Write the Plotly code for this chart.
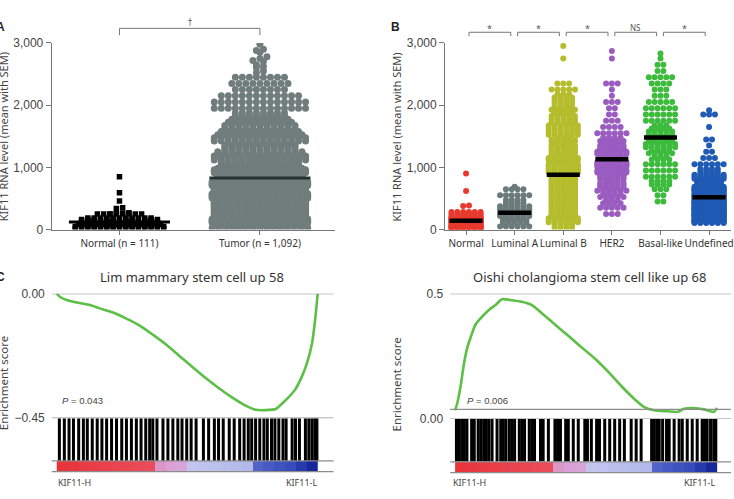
import plotly.graph_objects as go

W, H = 734, 499
def px(x): return x / W
def py(y): return 1 - y / H

# ---------------- DATA ----------------
# Panel A: counts per 100-unit bin starting at 0, plus individual outliers
a_categories = ["Normal (n = 111)", "Tumor (n = 1,092)"]
a_normal_counts = [44, 50, 8]
a_normal_outliers = [250, 255, 265, 270, 340, 350, 460, 590, 850]
a_tumor_counts = [29, 74, 94, 98, 94, 87, 80, 72, 62, 55, 48, 42, 37, 32, 28,
                  25, 22, 19, 16, 14, 14, 12, 8, 9, 8]
a_tumor_outliers = [2520, 2550, 2600, 2620, 2650, 2700, 2720, 2750, 2780,
                    2850, 2880, 2900, 2980]
a_means = [120, 830]
a_sig = "†"

# Panel B
b_categories = ["Normal", "Luminal A", "Luminal B", "HER2", "Basal-like", "Undefined"]
b_colors = ["#e8392e", "#6b7a7a", "#b5bd2c", "#9a5cc0", "#3dbb3d", "#1f5ab4"]
b_counts = [
    [40, 48, 18],
    [6, 14, 18, 12, 8, 6, 4],
    [8, 18, 20, 20, 20, 20, 20, 20, 19, 18, 17, 16, 15, 14, 13, 12, 12, 10, 9, 9, 8, 7, 5, 3],
    [0, 0, 3, 5, 7, 9, 11, 13, 15, 17, 18, 19, 17, 14, 9, 6, 4, 3, 2, 2, 3, 1, 1, 3],
    [0, 0, 0, 0, 2, 2, 3, 8, 6, 6, 6, 7, 9, 12, 14, 10, 7, 6, 6, 6, 5, 3, 3, 4, 5, 2, 2, 1],
    [0, 40, 45, 45, 40, 35, 30, 25, 18, 8, 6, 3, 2, 1, 2, 0, 1, 0, 3],
]
b_outliers = [[380, 385, 620, 900], [690], [2750, 2950], [2750, 2870], [2830], [1920]]
b_means = [140, 270, 880, 1130, 1480, 520]
b_sig = ["*", "*", "*", "NS", "*"]

y_ticks = [0, 1000, 2000, 3000]
y_ticktext = ["0", "1,000", "2,000", "3,000"]

# Panel C (GSEA) : running enrichment score (rank fraction, ES)
c_title = "Lim mammary stem cell up 58"
c_rank = [0, 0.013, 0.038, 0.076, 0.127, 0.165, 0.216, 0.267, 0.318, 0.368, 0.419,
          0.470, 0.521, 0.572, 0.623, 0.673, 0.724, 0.762, 0.801, 0.839, 0.864,
          0.889, 0.915, 0.940, 0.959, 0.978, 0.991, 1.0]
c_es = [0, -0.012, -0.023, -0.032, -0.041, -0.053, -0.068, -0.090, -0.115, -0.148,
        -0.184, -0.225, -0.266, -0.306, -0.343, -0.376, -0.405, -0.420, -0.421,
        -0.417, -0.397, -0.374, -0.345, -0.298, -0.251, -0.181, -0.088, 0]
c_hits = [0.010, 0.029, 0.047, 0.064, 0.084, 0.102, 0.117, 0.136, 0.155, 0.173,
          0.191, 0.210, 0.229, 0.249, 0.267, 0.286, 0.305, 0.323, 0.341,
          0.356, 0.368, 0.384, 0.407, 0.426, 0.445, 0.464, 0.480,
          0.498, 0.515, 0.534, 0.562, 0.582, 0.604, 0.620, 0.638, 0.661, 0.680,
          0.701, 0.718,
          0.734, 0.747, 0.762, 0.778, 0.794, 0.807, 0.823, 0.836, 0.851, 0.867,
          0.879, 0.902, 0.915, 0.930, 0.953, 0.966, 0.978, 0.989, 0.997]
c_p = "<i>P</i> = 0.043"
c_yticks = [0, -0.45]
c_yticktext = ["0.00", "−0.45"]

# Panel D
d_title = "Oishi cholangioma stem cell like up 68"
d_rank = [0, 0.009, 0.021, 0.034, 0.047, 0.059, 0.078, 0.104, 0.129, 0.154, 0.179,
          0.217, 0.255, 0.293, 0.331, 0.381, 0.432, 0.482, 0.533, 0.583, 0.634,
          0.684, 0.722, 0.760, 0.811, 0.848, 0.874, 0.912, 0.949, 0.987, 1.0]
d_es = [-0.004, 0.031, 0.101, 0.199, 0.269, 0.311, 0.367, 0.402, 0.430, 0.451, 0.476,
        0.472, 0.465, 0.451, 0.416, 0.367, 0.318, 0.269, 0.220, 0.164, 0.101,
        0.045, 0.010, -0.004, -0.008, -0.011, 0.003, 0.006, 0, -0.011, 0.006]
d_hits = [0.005, 0.015, 0.025, 0.035, 0.045, 0.063, 0.073, 0.088, 0.098, 0.109,
          0.119, 0.129, 0.141, 0.160, 0.174, 0.184, 0.194, 0.207, 0.217, 0.227,
          0.245, 0.255, 0.265, 0.283, 0.293, 0.303, 0.326, 0.336, 0.356,
          0.381, 0.391, 0.402, 0.422, 0.432, 0.451, 0.470, 0.495, 0.505, 0.520,
          0.540, 0.551, 0.571, 0.590, 0.609, 0.628, 0.646,
          0.672, 0.691, 0.710, 0.750, 0.760, 0.770, 0.779, 0.792, 0.807, 0.817,
          0.836, 0.855, 0.867, 0.886, 0.905, 0.924, 0.943, 0.952, 0.962, 0.975,
          0.987, 0.995]
d_p = "<i>P</i> = 0.006"
d_yticks = [0.5, -0.042]
d_yticktext = ["0.5", "0.00"]

# ranked-list metric strip (high -> low)
strip_metric = [1.0, 0.95, 0.9, 0.86, 0.82, 0.78, 0.74, 0.7, 0.66,
                0.2, 0.12, 0.06,
                -0.1, -0.14, -0.18, -0.22, -0.26, -0.3,
                -0.55, -0.6, -0.65, -0.7, -0.85, -1.0]
strip_colorscale = [[0.0, "#17289a"], [0.1, "#2a40b0"], [0.2, "#4659c4"],
                    [0.26, "#6070cc"], [0.3, "#aab2e6"], [0.45, "#c2c6ee"],
                    [0.5, "#d6aadc"], [0.58, "#dc9cd2"], [0.75, "#e8687e"],
                    [0.83, "#ea4c5a"], [1.0, "#e8343a"]]

# ---------------- LAYOUT HELPERS ----------------
def swarm(counts, outliers, center, spacing, maxhalf, binw=100):
    xs, ys = [], []
    cap = int(round(2 * maxhalf / spacing)) + 1
    for i, n in enumerate(counts):
        if n <= 0:
            continue
        lo = i * binw
        nrows = -(-n // cap)
        per = -(-n // nrows)
        k = 0
        for r in range(nrows):
            m = min(per, n - k)
            yv = lo + (r + 0.5) * binw / nrows
            width = min((m - 1) * spacing, 2 * maxhalf)
            for j in range(m):
                off = -width / 2 + (width * j / (m - 1) if m > 1 else 0)
                xs.append(center + off)
                ys.append(yv)
            k += m
    groups = {}
    for v in outliers:
        groups.setdefault(int(v // 80), []).append(v)
    for vals in groups.values():
        m = len(vals)
        for j, v in enumerate(sorted(vals)):
            off = (j - (m - 1) / 2) * spacing
            xs.append(center + off)
            ys.append(v)
    return xs, ys

fig = go.Figure()

# ---- Panel A ----
ax, ay = swarm(a_normal_counts, a_normal_outliers, 0, 0.045, 0.33)
fig.add_trace(go.Scatter(x=ax, y=ay, mode="markers", xaxis="x", yaxis="y",
                         marker=dict(symbol="square", size=5.5, color="#000000"),
                         hoverinfo="skip"))
tx, ty = swarm(a_tumor_counts, a_tumor_outliers, 1, 0.05, 0.34)
fig.add_trace(go.Scatter(x=tx, y=ty, mode="markers", xaxis="x", yaxis="y",
                         marker=dict(symbol="circle", size=7, color="#717d7d",
                                     line=dict(width=0)),
                         hoverinfo="skip"))
for i, m in enumerate(a_means):
    fig.add_trace(go.Scatter(x=[i - 0.36, i + 0.36], y=[m, m], mode="lines",
                             xaxis="x", yaxis="y",
                             line=dict(color="#263232" if i else "#000000", width=3),
                             hoverinfo="skip"))

# ---- Panel B ----
for i in range(len(b_categories)):
    bx, by = swarm(b_counts[i], b_outliers[i], i, 0.12, 0.31)
    fig.add_trace(go.Scatter(x=bx, y=by, mode="markers", xaxis="x2", yaxis="y2",
                             marker=dict(size=6, color=b_colors[i], line=dict(width=0)),
                             hoverinfo="skip"))
for i, m in enumerate(b_means):
    fig.add_trace(go.Scatter(x=[i - 0.34, i + 0.34], y=[m, m], mode="lines",
                             xaxis="x2", yaxis="y2",
                             line=dict(color="#000000", width=4.5), hoverinfo="skip"))

# ---- Panels C & D ----
def gsea(rank, es, hits, xa_es, ya_es, xa_hit, ya_hit, xa_s, ya_s):
    fig.add_trace(go.Scatter(x=rank, y=es, mode="lines", xaxis=xa_es, yaxis=ya_es,
                             line=dict(color="#5cbf46", width=2.6, shape="spline",
                                       smoothing=0.6),
                             hoverinfo="skip"))
    hx, hy = [], []
    for h in hits:
        hx += [h, h, None]
        hy += [0, 1, None]
    fig.add_trace(go.Scatter(x=hx, y=hy, mode="lines", xaxis=xa_hit, yaxis=ya_hit,
                             line=dict(color="#000000", width=3), hoverinfo="skip"))
    n = len(strip_metric)
    fig.add_trace(go.Heatmap(z=[strip_metric], x0=0.5 / n, dx=1.0 / n, y=[0],
                             xaxis=xa_s, yaxis=ya_s, colorscale=strip_colorscale,
                             zmin=-1, zmax=1, showscale=False, hoverinfo="skip"))

gsea(c_rank, c_es, c_hits, "x3", "y3", "x4", "y4", "x5", "y5")
gsea(d_rank, d_es, d_hits, "x6", "y6", "x7", "y7", "x8", "y8")

num_font = dict(family="Liberation Sans, Arial", size=12, color="#444444")
cat_font = dict(family="Noto Sans, Open Sans", size=10, color="#333333")
axis_col = "#777777"

def hidden(domain, rng, anchor):
    return dict(domain=domain, range=rng, visible=False, anchor=anchor, fixedrange=True)

c_xr = [-0.0191, 1.0611]
d_xr = [-0.019, 1.053]

fig.update_layout(
    width=W, height=H, margin=dict(l=0, r=0, t=0, b=0),
    paper_bgcolor="white", plot_bgcolor="white", showlegend=False,
    xaxis=dict(domain=[px(52), px(336)], range=[-0.482, 1.532], anchor="y",
               tickvals=[0, 1], ticktext=a_categories, tickfont=cat_font, tickangle=0,
               showline=True, linecolor=axis_col, linewidth=1.2,
               ticks="outside", ticklen=4, tickcolor=axis_col,
               showgrid=False, zeroline=False),
    yaxis=dict(domain=[py(229), py(37)], range=[0, 3000], anchor="x",
               tickvals=y_ticks, ticktext=y_ticktext, tickfont=num_font,
               showline=True, linecolor=axis_col, linewidth=1.2,
               ticks="outside", ticklen=5, tickcolor=axis_col,
               showgrid=False, zeroline=False),
    xaxis2=dict(domain=[px(447), 1.0], range=[-0.43, 5.451], anchor="y2",
                tickvals=list(range(6)), ticktext=b_categories, tickfont=cat_font,
                tickangle=0, ticklabeloverflow="allow",
                showline=True, linecolor=axis_col, linewidth=1.2,
                ticks="outside", ticklen=4, tickcolor=axis_col,
                showgrid=False, zeroline=False),
    yaxis2=dict(domain=[py(229), py(37)], range=[0, 3000], anchor="x2",
                tickvals=y_ticks, ticktext=y_ticktext, tickfont=num_font,
                showline=True, linecolor=axis_col, linewidth=1.2,
                ticks="outside", ticklen=5, tickcolor=axis_col,
                showgrid=False, zeroline=False),
    xaxis3=hidden([px(52), px(335)], c_xr, "y3"),
    yaxis3=dict(domain=[py(423), py(295)], range=[-0.45, 0], anchor="x3",
                tickvals=c_yticks, ticktext=c_yticktext, tickfont=num_font,
                showline=False, showgrid=False, zeroline=False, ticks="",
                ticklabelstandoff=6),
    xaxis4=hidden([px(52), px(335)], c_xr, "y4"),
    yaxis4=hidden([py(467), py(423)], [0, 1], "x4"),
    xaxis5=hidden([px(52), px(335)], c_xr, "y5"),
    yaxis5=hidden([py(478), py(467)], [-0.5, 0.5], "x5"),
    xaxis6=hidden([px(452), 1.0], d_xr, "y6"),
    yaxis6=dict(domain=[py(424), py(295)], range=[-0.042, 0.5], anchor="x6",
                tickvals=d_yticks, ticktext=d_yticktext, tickfont=num_font,
                showline=False, showgrid=False, zeroline=False, ticks="",
                ticklabelstandoff=6),
    xaxis7=hidden([px(452), 1.0], d_xr, "y7"),
    yaxis7=hidden([py(468), py(424)], [0, 1], "x7"),
    xaxis8=hidden([px(452), 1.0], d_xr, "y8"),
    yaxis8=hidden([py(479), py(468)], [-0.5, 0.5], "x8"),
)

line_col = "#8c8c8c"
shapes = []
for xa, ya, yv in [("x3", "y3", 0), ("x3", "y3", -0.45), ("x6", "y6", 0.5),
                   ("x6", "y6", 0), ("x6", "y6", -0.042)]:
    shapes.append(dict(type="line", xref=xa + " domain", yref=ya, x0=0, x1=1,
                       y0=yv, y1=yv, line=dict(color=line_col, width=1.2)))
for xa, ya in [("x5", "y5"), ("x8", "y8")]:
    for yv in (0, 1):
        shapes.append(dict(type="line", xref=xa + " domain", yref=ya + " domain",
                           x0=0, x1=1, y0=yv, y1=yv,
                           line=dict(color=line_col, width=1.2)))
br_col = "#777777"
shapes.append(dict(type="path", xref="x", yref="paper",
                   path=f"M 0,{py(29)} L 0,{py(22)} L 1,{py(22)} L 1,{py(29)}",
                   line=dict(color=br_col, width=1)))
for i in range(5):
    x0, x1 = i + 0.06, i + 0.92
    shapes.append(dict(type="path", xref="x2", yref="paper",
                       path=f"M {x0},{py(30)} L {x0},{py(26)} L {x1},{py(26)} L {x1},{py(30)}",
                       line=dict(color=br_col, width=1)))
fig.update_layout(shapes=shapes)

def note(text, x, y, font, xanchor="center", textangle=0, xref="paper"):
    return dict(text=text, x=x, y=y, xref=xref, yref="paper", xanchor=xanchor,
                yanchor="middle", textangle=textangle, showarrow=False, font=font)

ann = []
ann.append(note(a_sig, 0.5, py(16), dict(family="DejaVu Sans", size=8, color="#555555"),
                xref="x"))
for i, s in enumerate(b_sig):
    ann.append(note(s, i + 0.49, py(21 if s == "NS" else 22.5),
                    dict(family="Noto Sans", size=8 if s == "NS" else 9, color="#555555"),
                    xref="x2"))
ytitle = "KIF11 RNA level (mean with SEM)"
tfont = dict(family="Noto Sans", size=11, color="#444444")
ann.append(note(ytitle, px(3), py(133), tfont, textangle=-90))
ann.append(note(ytitle, px(398), py(134), tfont, textangle=-90))
efont = dict(family="Noto Sans", size=11.5, color="#444444")
ann.append(note("Enrichment score", px(3), py(387), efont, textangle=-90))
ann.append(note("Enrichment score", px(398), py(388), efont, textangle=-90))
for letter, x, y in [("A", 0, 21), ("B", 397, 21), ("C", 0, 278)]:
    ann.append(note(f"<b>{letter}</b>", px(x), py(y),
                    dict(family="Liberation Sans", size=12, color="#222222")))
ttl = dict(family="Noto Sans", size=13, color="#333333")
ann.append(note(c_title, px(193), py(278), ttl))
ann.append(note(d_title, px(592), py(278), ttl))
small = dict(family="Liberation Sans", size=9.5, color="#444444")
ann.append(note(c_p, px(60), py(405), small, xanchor="left"))
ann.append(note(d_p, px(467), py(405), small, xanchor="left"))
lab = dict(family="Noto Sans", size=9, color="#444444")
for xl, xr in [(56, 320), (453, 720)]:
    ann.append(note("KIF11-H", px(xl), py(489), lab, xanchor="left"))
    ann.append(note("KIF11-L", px(xr), py(489), lab, xanchor="right"))
fig.update_layout(annotations=ann)

fig.write_html("out.html")
